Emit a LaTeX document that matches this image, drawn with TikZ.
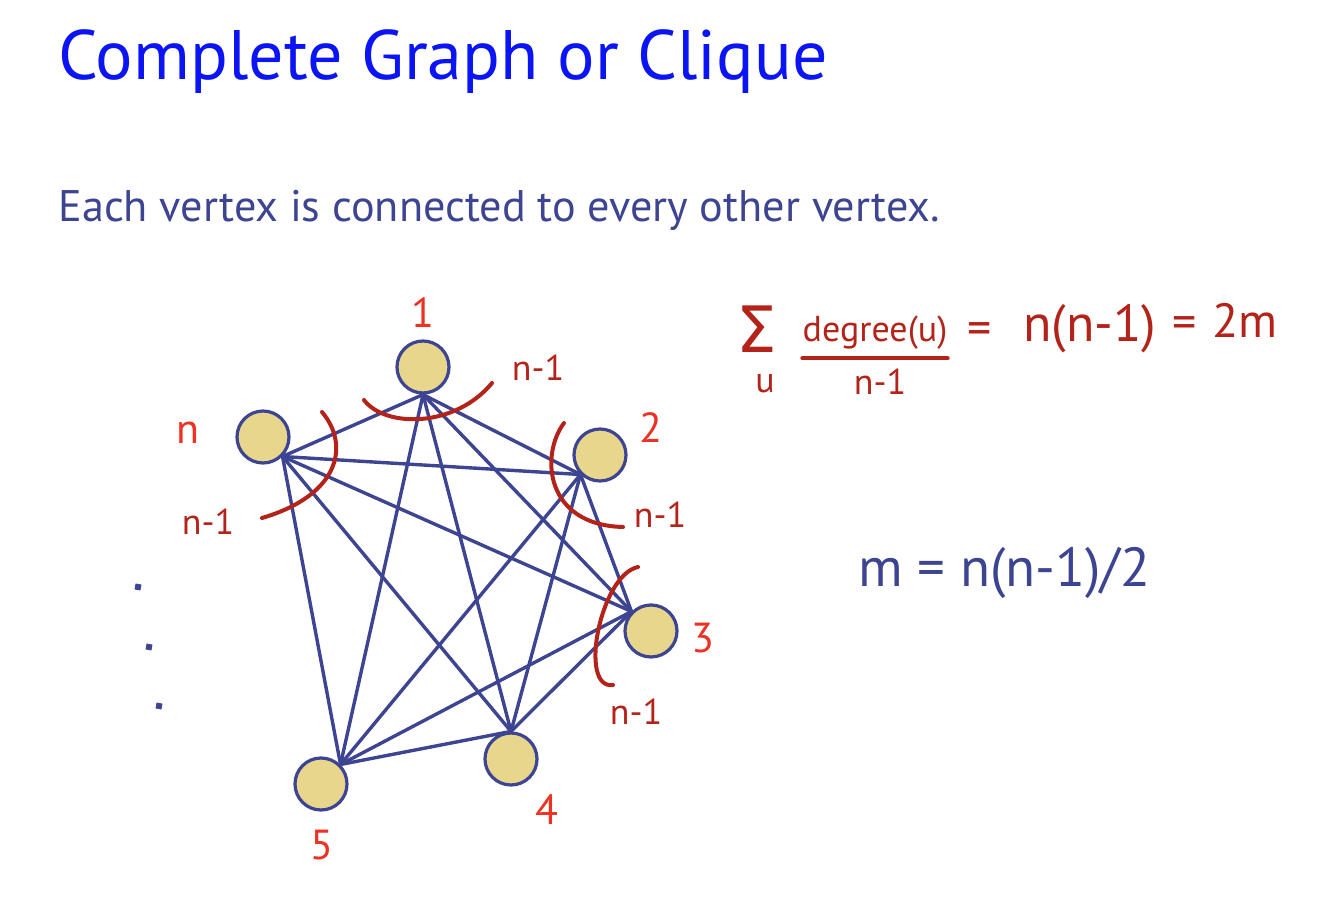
\documentclass[tikz,border=0pt]{standalone}
\usepackage{fontspec}
\setmainfont{PT Sans}
\newfontfamily\dejavu{DejaVu Sans}
\definecolor{navy}{RGB}{61,68,145}
\definecolor{vfill}{RGB}{232,214,140}
\definecolor{lblred}{RGB}{235,50,35}
\definecolor{hand}{RGB}{180,35,25}
\definecolor{titleblue}{RGB}{10,20,245}
\begin{document}
\begin{tikzpicture}[x=0.5pt,y=-0.5pt,
  vert/.style={circle,draw=navy,line width=1.6pt,fill=vfill,minimum size=26pt,inner sep=0pt},
  edge/.style={navy,line width=1.7pt},
  lbl/.style={text=lblred,font=\fontsize{21}{21}\selectfont,inner sep=0pt},
  hw/.style={text=hand,font=\fontsize{18}{18}\selectfont,inner sep=0pt},
  hwline/.style={hand,line width=2pt,line cap=round},
  dotmark/.style={fill=navy,draw=none,minimum size=3pt,inner sep=0pt,rectangle,rotate=-10}]
\useasboundingbox (0,0) rectangle (1334,898);
% title and text
\node[anchor=base west,inner sep=0pt,text=titleblue,font=\fontsize{35}{40}\selectfont] (title) at (58,80) {Complete Graph or Clique};
\node[anchor=base west,inner sep=0pt,text=navy,font=\fontsize{22.1}{26}\selectfont] (sub) at (58,222) {Each vertex is connected to every other vertex.};
\node[anchor=base west,inner sep=0pt,text=navy,font=\fontsize{27.5}{30}\selectfont] (mform) at (858,587) {m = n(n-1)/2};
% vertices
\node[vert] (v1) at (423,367) {};
\node[vert] (vn) at (263,437) {};
\node[vert] (v2) at (600,455) {};
\node[vert] (v3) at (651,631) {};
\node[vert] (v4) at (511,759) {};
\node[vert] (v5) at (321,784) {};
% edge end points
\coordinate (p1) at (v1.south);
\coordinate (pn) at (vn.south east);
\coordinate (p2) at (v2.south west);
\coordinate (p3) at (v3.north west);
\coordinate (p4) at (v4.north);
\coordinate (p5) at (v5.north east);
\foreach \a/\b in {1/n,1/2,1/3,1/4,1/5,n/2,n/3,n/4,n/5,2/3,2/4,2/5,3/4,3/5,4/5}
  \draw[edge] (p\a) -- (p\b);
% labels
\node[lbl] (l1) at (423,313) {1};
\node[lbl] (ln) at (188,433) {n};
\node[lbl] (l2) at (651,428) {2};
\node[lbl] (l3) at (703,638) {3};
\node[lbl] (l4) at (547,810) {4};
\node[lbl] (l5) at (322,845) {5};
% dots
\node[dotmark] (d1) at (138,587) {};
\node[dotmark] (d2) at (149,647) {};
\node[dotmark] (d3) at (159,706) {};
% handwritten arcs
\draw[hwline] (364,400) .. controls (385,428) and (455,428) .. (492,383);
\draw[hwline] (322,412) .. controls (350,445) and (340,495) .. (262,518);
\draw[hwline] (564,423) .. controls (540,455) and (545,525) .. (623,527);
\draw[hwline] (638,567) .. controls (600,575) and (578,690) .. (613,685);
% handwritten n-1 labels
\node[hw] (h1) at (538,368) {n-1};
\node[hw] (hn) at (208,522) {n-1};
\node[hw] (h2) at (660,515) {n-1};
\node[hw] (h3) at (636,712) {n-1};
% formula
\node[text=hand,inner sep=0pt,anchor=base,font=\dejavu\fontsize{32}{32}\selectfont] (sig) at (757,353) {Σ};
\node[hw] (su) at (765,384) {u};
\node[hw,anchor=base] (deg) at (875,342) {degree(u)};
\draw[hwline] (deg.south west) ++(0,8) coordinate (ul1) -- ([yshift=-8*0.5pt]deg.south east) coordinate (ul2);
\node[hw] (dn) at (880,382) {n-1};
\node[hw,font=\fontsize{24}{24}\selectfont] (eq1) at (980,334) {=};
\node[hw,font=\fontsize{26}{26}\selectfont,anchor=base] (nn) at (1090,342) {n(n-1)};
\node[hw,font=\fontsize{24}{24}\selectfont] (eq2) at (1185,328) {=};
\node[hw,font=\fontsize{24}{24}\selectfont,anchor=base] (tm) at (1245,338) {2m};
\end{tikzpicture}
\end{document}
